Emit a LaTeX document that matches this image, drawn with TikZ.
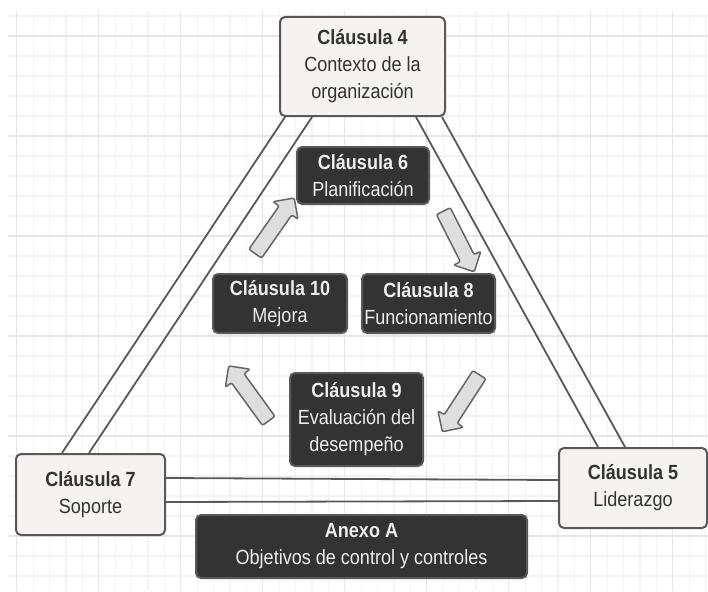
\documentclass[tikz,border=0pt]{standalone}
\usepackage{fontspec}
\setmainfont{Liberation Sans}[FakeStretch=0.88]
\usetikzlibrary{shapes.arrows}
\definecolor{gridminor}{HTML}{F3F3F3}
\definecolor{gridmajor}{HTML}{E6E6E6}
\definecolor{boxline}{HTML}{585858}
\definecolor{boxfill}{HTML}{F6F2F1}
\definecolor{darkfill}{HTML}{333333}
\definecolor{arrowfill}{HTML}{DEDEDE}
\tikzset{
  clause/.style={draw=boxline,line width=2pt,rounded corners=5pt,fill=boxfill,text=black!80,align=center,inner sep=0pt,font=\fontsize{20.5}{27}\selectfont},
  darkclause/.style={clause,fill=darkfill,draw=black!65,text=white!93!black},
  cyclearrow/.style={single arrow,draw=black!60,fill=arrowfill,line width=1.5pt,rounded corners=2pt,inner xsep=0pt,inner ysep=7pt,single arrow head extend=7.5pt,minimum height=68pt},
  bar/.style={draw=boxline,line width=1.8pt}
}
\begin{document}
\begin{tikzpicture}[x=1pt,y=-1pt]
\useasboundingbox (0,0) rectangle (708,591);
\foreach \k in {0,...,42} \draw[gridminor,line width=1.2pt]({16.7+16.4*\k},11)--({16.7+16.4*\k},591);
\foreach \k in {0,...,28} \draw[gridminor,line width=1.2pt](8,{16+20*\k})--(708,{16+20*\k});
\foreach \k in {0,5,...,40} \draw[gridmajor,line width=1.4pt]({16.7+16.4*\k},11)--({16.7+16.4*\k},591);
\foreach \k in {1,6,...,26} \draw[gridmajor,line width=1.4pt](8,{16+20*\k})--(708,{16+20*\k});
\node[clause,minimum width=165pt,minimum height=99pt](c4) at (362.5,66.5){\textbf{Cláusula 4}\\Contexto de la\\organización};
\node[clause,minimum width=149pt,minimum height=81pt](c7) at (90.5,494.5){\textbf{Cláusula 7}\\Soporte};
\node[clause,minimum width=148pt,minimum height=80pt](c5) at (633,488){\textbf{Cláusula 5}\\Liderazgo};
\node[darkclause,minimum width=132pt,minimum height=57pt](c6) at (363,175.5){\textbf{Cláusula 6}\\Planificación};
\node[darkclause,minimum width=134pt,minimum height=59pt](c10) at (280,303.5){\textbf{Cláusula 10}\\Mejora};
\node[darkclause,minimum width=133pt,minimum height=59pt](c8) at (428.5,303.5){\textbf{Cláusula 8}\\Funcionamiento};
\node[darkclause,minimum width=133pt,minimum height=93pt](c9) at (356.5,419.5){\textbf{Cláusula 9}\\Evaluación del\\desempeño};
\node[darkclause,minimum width=331pt,minimum height=63pt](anexo) at (361.5,546.5){\textbf{Anexo A}\\Objetivos de control y controles};
\draw[bar]([xshift=6pt]c4.south west)--([xshift=47pt]c7.north west);
\draw[bar]([xshift=33pt]c4.south west)--([xshift=74pt]c7.north west);
\draw[bar]([xshift=-30pt]c4.south east)--([xshift=40pt]c5.north west);
\draw[bar]([xshift=-4pt]c4.south east)--([xshift=67pt]c5.north west);
\draw[bar]([yshift=16.5pt]c7.east)--([yshift=8pt]c5.west);
\draw[bar]([yshift=-7.5pt]c7.east)--([yshift=-13pt]c5.west);
\node[cyclearrow,rotate=55](a106) at (272.5,229){};
\node[cyclearrow,rotate=-63](a68) at (457,238){};
\node[cyclearrow,rotate=-123](a89) at (463,400){};
\node[cyclearrow,rotate=126](a910) at (251,396.5){};
\end{tikzpicture}
\end{document}
